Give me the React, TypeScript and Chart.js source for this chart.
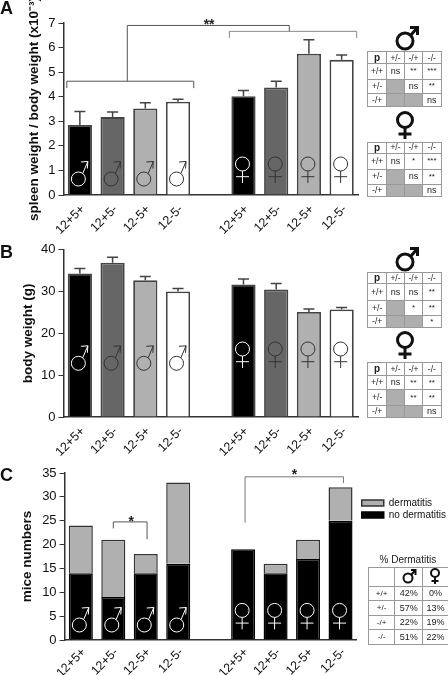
import React, { useEffect, useRef } from "react";
import { Chart, registerables } from "chart.js";

Chart.register(...registerables);

const categories = ["12+5+", "12+5-", "12-5+", "12-5-", "", "12+5+", "12+5-", "12-5+", "12-5-"];
const barColors = ["#000000", "#666666", "#b0b0b0", "#ffffff", "#ffffff", "#000000", "#666666", "#b0b0b0", "#ffffff"];

const spleenValues = [2.85, 3.17, 3.52, 3.8, null, 4.02, 4.38, 5.75, 5.5];
const spleenUpper = [3.4, 3.38, 3.75, 3.9, null, 4.25, 4.63, 6.32, 5.7];
const bodyValues = [34.3, 36.9, 32.7, 30, null, 31.7, 30.5, 25.1, 25.7];
const bodyUpper = [35.5, 38.2, 33.6, 30.7, null, 33, 31.9, 25.8, 26.2];
const noDermatitis = [14, 9, 14, 16, null, 19, 14, 17, 25];
const dermatitis = [10, 12, 4, 17, null, 0, 2, 4, 7];

const spleenBrackets = [
  { color: "#555", pts: [[-0.4, 4.35], [-0.4, 4.63], [3.48, 4.63], [3.48, 4.35]] },
  { color: "#555", pts: [[1.45, 4.63], [1.45, 6.9], [6.4, 6.9], [6.4, 6.66]] },
  { color: "#888", pts: [[4.57, 6.39], [4.57, 6.66], [8.46, 6.66], [8.46, 6.39]] },
];
const spleenStars = [{ text: "**", cat: 3.95, val: 7.03 }];
const miceBrackets = [
  { color: "#555", pts: [[1.0, 23.4], [1.0, 24.75], [2.04, 24.75], [2.04, 21.1]] },
  { color: "#777", pts: [[5.06, 24.6], [5.06, 34.2], [8.09, 34.2], [8.09, 32.9]] },
];
const miceStars = [
  { text: "*", cat: 1.55, val: 25.3 },
  { text: "*", cat: 6.58, val: 35.1 },
];

const sigMaleA = [["ns", "**", "***"], ["", "ns", "**"], ["", "", "ns"]];
const sigFemaleA = [["ns", "*", "***"], ["", "ns", "**"], ["", "", "ns"]];
const sigMaleB = [["ns", "ns", "**"], ["", "*", "**"], ["", "", "*"]];
const sigFemaleB = [["ns", "**", "**"], ["", "**", "**"], ["", "", "ns"]];
const sigColumns = ["p", "+/-", "-/+", "-/-"];
const sigRows = ["+/+", "+/-", "-/+"];
const pctRows = ["+/+", "+/-", "-/+", "-/-"];
const pctMale = ["42%", "57%", "22%", "51%"];
const pctFemale = ["0%", "13%", "19%", "22%"];

const FONT = '"Liberation Sans", Arial, sans-serif';

function drawMale(ctx: any, cx: number, cy: number, color: string) {
  const r = 7;
  ctx.save();
  ctx.strokeStyle = color;
  ctx.lineWidth = 1;
  ctx.beginPath();
  ctx.arc(cx, cy, r, 0, Math.PI * 2);
  ctx.stroke();
  const sx = cx + r * 0.62, sy = cy - r * 0.78;
  const tx = cx + 9.5, ty = cy - 17.5;
  ctx.beginPath();
  ctx.moveTo(sx, sy);
  ctx.lineTo(tx, ty);
  ctx.moveTo(tx - 7, ty + 0.5);
  ctx.lineTo(tx, ty);
  ctx.lineTo(tx - 0.5, ty + 7);
  ctx.stroke();
  ctx.restore();
}

function drawFemale(ctx: any, cx: number, cy: number, color: string) {
  const r = 7;
  ctx.save();
  ctx.strokeStyle = color;
  ctx.lineWidth = 1;
  ctx.beginPath();
  ctx.arc(cx, cy, r, 0, Math.PI * 2);
  ctx.moveTo(cx, cy + r);
  ctx.lineTo(cx, cy + 19);
  ctx.moveTo(cx - 6.5, cy + 12.7);
  ctx.lineTo(cx + 6.5, cy + 12.7);
  ctx.stroke();
  ctx.restore();
}

function makePlugin(cfg: any) {
  return {
    id: "panelExtras",
    afterLayout(chart: any) {
      if (cfg.legendGap && chart.legend) chart.legend.left = chart.chartArea.right + cfg.legendGap;
    },
    afterDatasetsDraw(chart: any) {
      const { ctx, scales } = chart;
      const x = scales.x;
      const y = scales.y;
      ctx.save();
      (cfg.upper || []).forEach((u: any, i: number) => {
        if (u === null) return;
        const v = cfg.values[i];
        const px = x.getPixelForValue(i);
        ctx.strokeStyle = "#444";
        ctx.lineWidth = 1.5;
        ctx.beginPath();
        ctx.moveTo(px, y.getPixelForValue(v));
        ctx.lineTo(px, y.getPixelForValue(u));
        ctx.moveTo(px - 5.5, y.getPixelForValue(u));
        ctx.lineTo(px + 5.5, y.getPixelForValue(u));
        ctx.stroke();
      });
      (cfg.brackets || []).forEach((b: any) => {
        ctx.strokeStyle = b.color;
        ctx.lineWidth = 1;
        ctx.beginPath();
        b.pts.forEach((p: number[], k: number) => {
          const a = x.getPixelForValue(p[0]);
          const c = y.getPixelForValue(p[1]);
          if (k === 0) ctx.moveTo(a, c);
          else ctx.lineTo(a, c);
        });
        ctx.stroke();
      });
      ctx.fillStyle = "#222";
      ctx.font = `bold 14px ${FONT}`;
      ctx.textAlign = "center";
      ctx.textBaseline = "middle";
      (cfg.stars || []).forEach((s: any) => {
        ctx.fillText(s.text, x.getPixelForValue(s.cat), y.getPixelForValue(s.val) + 3);
      });
      categories.forEach((c, i) => {
        if (!c) return;
        const px = x.getPixelForValue(i);
        const color = cfg.symbolColor(i);
        if (i < 4) drawMale(ctx, px - 1.5, y.bottom - cfg.maleUp, color);
        else drawFemale(ctx, px - 1, y.bottom - cfg.femaleUp, color);
      });
      ctx.restore();
    },
  };
}

function scales(cfg: any) {
  return {
    x: {
      stacked: !!cfg.stacked,
      grid: { display: true, drawOnChartArea: false, drawTicks: false },
      border: { color: "#333", width: 1.5 },
      ticks: {
        autoSkip: false, minRotation: 45, maxRotation: 45, padding: cfg.labelPad, labelOffset: 3,
        color: "#111", font: { family: FONT, size: 12.5 },
      },
      afterFit: (s: any) => { s.height = cfg.xHeight; },
    },
    y: {
      stacked: !!cfg.stacked,
      min: 0, max: cfg.max,
      grid: { display: true, drawOnChartArea: false, drawTicks: true, tickLength: 5, color: "#333" },
      border: { color: "#333", width: 1.5 },
      ticks: { stepSize: cfg.step, padding: 3, color: "#111", font: { family: FONT, size: 13 } },
      title: {
        display: true, text: cfg.title, color: "#111",
        font: { family: FONT, size: cfg.titleSize, weight: "bold" },
        padding: { top: cfg.titleTop, bottom: 0 },
      },
      afterFit: (s: any) => { s.width = cfg.left; },
    },
  };
}

function Panel({ top, height, width, config }: any) {
  const ref = useRef<HTMLCanvasElement>(null);
  useEffect(() => {
    const chart = new Chart(ref.current as any, config());
    return () => chart.destroy();
  }, []);
  return (
    <canvas ref={ref} width={width} height={height}
      style={{ position: "absolute", left: 0, top, width, height }} />
  );
}

const configA = () => ({
  type: "bar",
  data: {
    labels: categories,
    datasets: [{
      label: "spleen weight / body weight", data: spleenValues, backgroundColor: barColors,
      borderColor: "#444", borderWidth: 1.8, barPercentage: 0.74, categoryPercentage: 1,
    }],
  },
  options: {
    responsive: false, animation: false,
    layout: { padding: { top: 23, right: 90, bottom: 0, left: 0 } },
    plugins: { legend: { display: false }, tooltip: { enabled: false } },
    scales: scales({ max: 7, step: 1, title: "spleen weight / body weight (x10\u207B\u00B3)", titleSize: 13.5, titleTop: 26, left: 63.5, xHeight: 45, labelPad: 7 }),
  },
  plugins: [makePlugin({
    values: spleenValues, upper: spleenUpper, brackets: spleenBrackets, stars: spleenStars,
    maleUp: 16, femaleUp: 31, symbolColor: (i: number) => (i === 0 || i === 5 ? "#fff" : "#333"),
  })],
});

const configB = () => ({
  type: "bar",
  data: {
    labels: categories,
    datasets: [{
      label: "body weight (g)", data: bodyValues, backgroundColor: barColors,
      borderColor: "#444", borderWidth: 1.8, barPercentage: 0.74, categoryPercentage: 1,
    }],
  },
  options: {
    responsive: false, animation: false,
    layout: { padding: { top: 14.7, right: 90, bottom: 0, left: 0 } },
    plugins: { legend: { display: false }, tooltip: { enabled: false } },
    scales: scales({ max: 40, step: 10, title: "body weight (g)", titleSize: 13.5, titleTop: 20, left: 63.5, xHeight: 48, labelPad: 7 }),
  },
  plugins: [makePlugin({
    values: bodyValues, upper: bodyUpper,
    maleUp: 53.7, femaleUp: 68, symbolColor: (i: number) => (i === 0 || i === 5 ? "#fff" : "#333"),
  })],
});

const configC = () => ({
  type: "bar",
  data: {
    labels: categories,
    datasets: [
      {
        label: "no dermatitis", data: noDermatitis, backgroundColor: "#000",
        borderColor: "#000", borderWidth: 1.5, barPercentage: 0.74, categoryPercentage: 1,
      },
      {
        label: "dermatitis", data: dermatitis, backgroundColor: "#b0b0b0",
        borderColor: "#333", borderWidth: 1.5, barPercentage: 0.74, categoryPercentage: 1,
      },
    ],
  },
  options: {
    responsive: false, animation: false,
    layout: { padding: { top: 13, right: 0, bottom: 0, left: 0 } },
    plugins: {
      tooltip: { enabled: false },
      legend: {
        position: "right", align: "start", reverse: true,
        title: { display: true, text: " ", padding: 6.7, font: { size: 8 } },
        labels: {
          boxWidth: 22, boxHeight: 6, padding: 2, color: "#111",
          font: { family: FONT, size: 10 },
        },
      },
    },
    scales: scales({ max: 35, step: 5, title: "mice numbers", titleSize: 13.5, titleTop: 19, left: 64.6, xHeight: 35, stacked: true, labelPad: 5 }),
  },
  plugins: [makePlugin({
    brackets: miceBrackets, stars: miceStars, legendGap: 3,
    maleUp: 15, femaleUp: 29.6, symbolColor: () => "#fff",
  })],
});

function Sym({ kind, cx, cy }: any) {
  const common = { fill: "none", stroke: "#111", strokeWidth: 3 };
  if (kind === "male") {
    return (
      <svg style={{ position: "absolute", left: cx - 14, top: cy - 16, overflow: "visible" }} width={32} height={28}>
        <circle cx={14} cy={16} r={8} {...common} />
        <path d="M20 10 L26 3 M19 2.5 L26.5 2.5 L26.5 10" {...common} />
      </svg>
    );
  }
  return (
    <svg style={{ position: "absolute", left: cx - 12, top: cy - 10, overflow: "visible" }} width={24} height={30}>
      <circle cx={12} cy={10} r={7.5} {...common} />
      <path d="M12 18 L12 29 M5.5 24 L18.5 24" {...common} />
    </svg>
  );
}

function GridTable({ left, top, cols, rows, children }: any) {
  return (
    <table style={{
      position: "absolute", left, top, borderCollapse: "collapse", tableLayout: "fixed",
      width: cols.reduce((a: number, b: number) => a + b, 0), fontFamily: FONT, color: "#222",
    }}>
      <colgroup>{cols.map((c: number, i: number) => <col key={i} style={{ width: c }} />)}</colgroup>
      <tbody>
        {rows.map((h: number, r: number) => (
          <tr key={r} style={{ height: h }}>{children(r)}</tr>
        ))}
      </tbody>
    </table>
  );
}

const cellStyle: any = { border: "1px solid #999", padding: 0, textAlign: "center", verticalAlign: "middle", lineHeight: 1, overflow: "hidden" };

function SigTable({ left, top, rows, data }: any) {
  return (
    <GridTable left={left} top={top} cols={[18.7, 18, 18, 18.7]} rows={rows}>
      {(r: number) => {
        if (r === 0) {
          return sigColumns.map((c, i) => (
            <td key={i} style={{ ...cellStyle, fontSize: i === 0 ? 10 : 8.5, fontWeight: i === 0 ? "bold" : "normal" }}>{c}</td>
          ));
        }
        return [
          <td key="h" style={{ ...cellStyle, fontSize: 8.5 }}>{sigRows[r - 1]}</td>,
          ...data[r - 1].map((v: string, i: number) => (
            <td key={i} style={{
              ...cellStyle, fontSize: v === "ns" ? 9 : 8,
              background: v === "" ? "#aeaeae" : "#fff",
            }}>{v}</td>
          )),
        ];
      }}
    </GridTable>
  );
}

function PctTable() {
  return (
    <GridTable left={367.7} top={567.3} cols={[26.7, 27.7, 26]} rows={[18.7, 14.5, 14.5, 14.5, 15]}>
      {(r: number) => {
        if (r === 0) return [<td key="a" style={cellStyle} />, <td key="b" style={cellStyle} />, <td key="c" style={cellStyle} />];
        return [
          <td key="a" style={{ ...cellStyle, fontSize: 8 }}>{pctRows[r - 1]}</td>,
          <td key="b" style={{ ...cellStyle, fontSize: 9 }}>{pctMale[r - 1]}</td>,
          <td key="c" style={{ ...cellStyle, fontSize: 9 }}>{pctFemale[r - 1]}</td>,
        ];
      }}
    </GridTable>
  );
}

function Letter({ text, top }: any) {
  return (
    <div style={{ position: "absolute", left: 0, top, fontFamily: FONT, fontWeight: "bold", fontSize: 18, lineHeight: "18px", color: "#111" }}>{text}</div>
  );
}

function PctSym({ kind, cx, cy }: any) {
  const common = { fill: "none", stroke: "#111", strokeWidth: 2 };
  return kind === "male" ? (
    <svg style={{ position: "absolute", left: cx - 7, top: cy - 8, overflow: "visible" }} width={16} height={16}>
      <circle cx={6} cy={9} r={4.5} {...common} />
      <path d="M9 6 L13 1.5 M9 1 L13.5 1 L13.5 6" {...common} />
    </svg>
  ) : (
    <svg style={{ position: "absolute", left: cx - 6, top: cy - 8, overflow: "visible" }} width={12} height={18}>
      <circle cx={6} cy={5} r={4} {...common} />
      <path d="M6 9.5 L6 16 M2.5 13 L9.5 13" {...common} />
    </svg>
  );
}

export default function App() {
  return (
    <div style={{ position: "absolute", left: 0, top: 0, width: 448, height: 675, background: "#fff", overflow: "hidden" }}>
      <Panel top={0} width={448} height={240} config={configA} />
      <Panel top={235} width={448} height={230} config={configB} />
      <Panel top={460} width={453} height={215} config={configC} />
      <Letter text="A" top={-1} />
      <Letter text="B" top={243} />
      <Letter text="C" top={466} />

      <Sym kind="male" cx={404.7} cy={41} />
      <SigTable left={367.3} top={51.3} rows={[12, 15.4, 14.6, 13]} data={sigMaleA} />
      <Sym kind="female" cx={405} cy={120} />
      <SigTable left={367.3} top={141.7} rows={[10.6, 16, 15, 12.7]} data={sigFemaleA} />

      <Sym kind="male" cx={404.7} cy={262} />
      <SigTable left={367.3} top={272} rows={[11.3, 16.7, 15, 12.3]} data={sigMaleB} />
      <Sym kind="female" cx={405} cy={340} />
      <SigTable left={367.3} top={361.7} rows={[13.3, 14.3, 15.7, 11.7]} data={sigFemaleB} />

      <div style={{ position: "absolute", left: 367.7, width: 80.3, top: 553, textAlign: "center", fontFamily: FONT, fontSize: 10, color: "#222", lineHeight: "14px" }}>% Dermatitis</div>
      <PctTable />
      <PctSym kind="male" cx={408.5} cy={577} />
      <PctSym kind="female" cx={435} cy={576} />
    </div>
  );
}
